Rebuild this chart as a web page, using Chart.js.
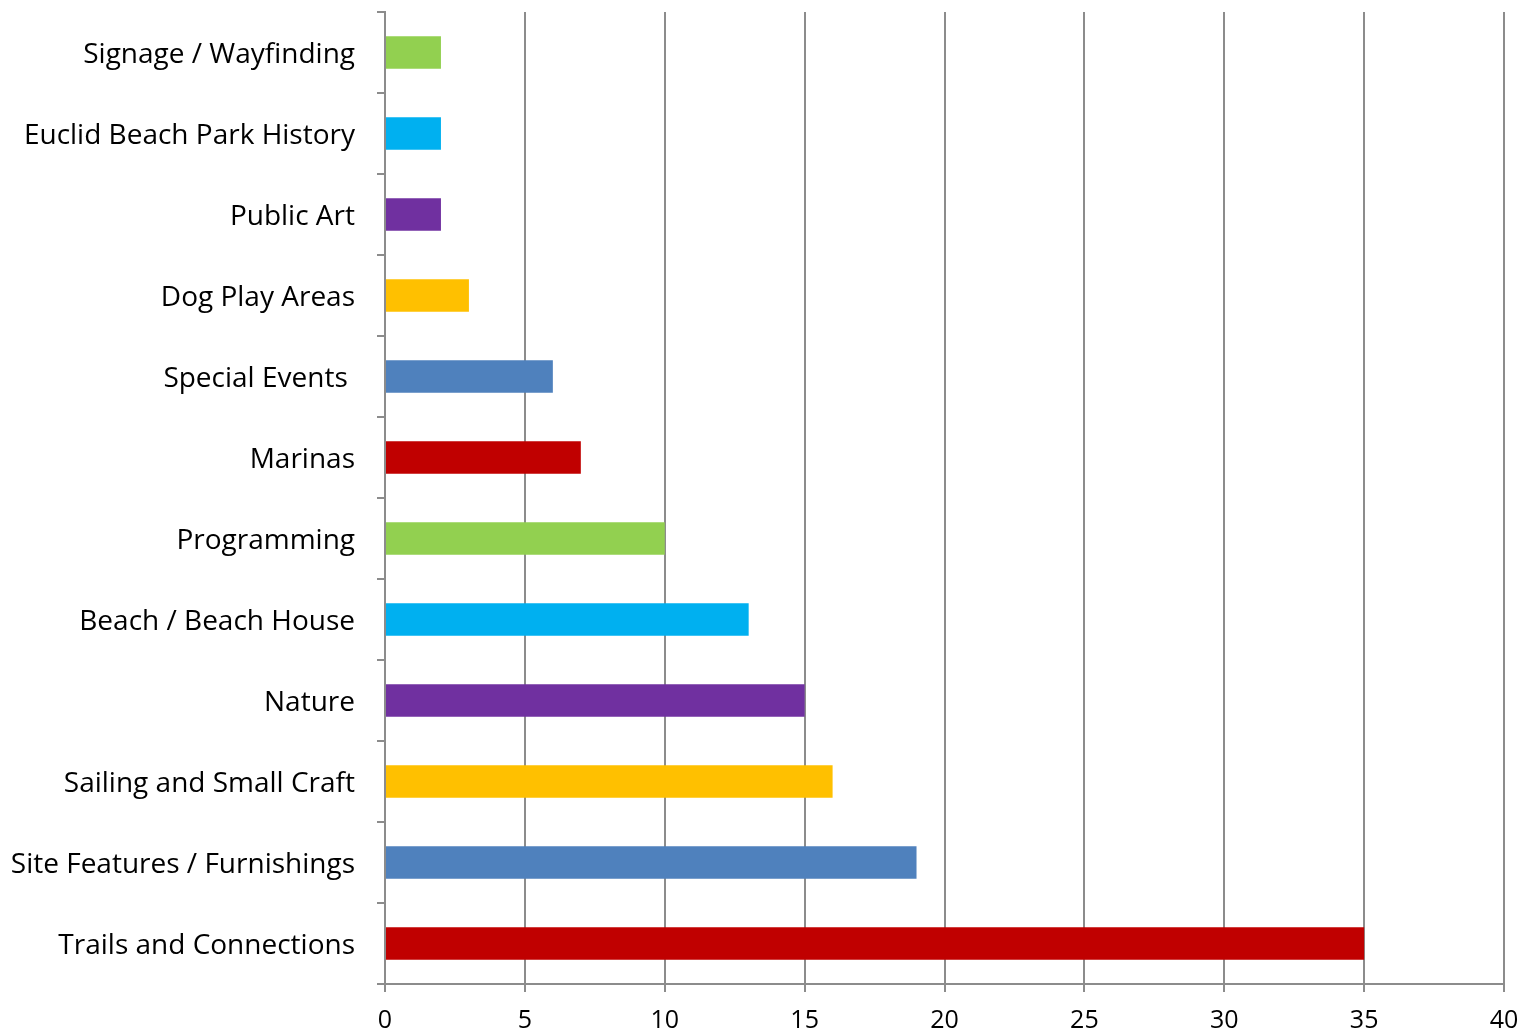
<!DOCTYPE html>
<html>
<head>
<meta charset="utf-8">
<script src="https://cdn.jsdelivr.net/npm/chart.js@4"></script>
<style>
  html, body { margin: 0; padding: 0; background: #fff; }
  #wrap { width: 1522px; height: 1031px; }
</style>
</head>
<body>
<div id="wrap"><canvas id="myCanvas" width="1522" height="1031"></canvas></div>
<script>
let canvas = document.getElementById("myCanvas");

// categories, top to bottom
const categorias = [
  "Signage / Wayfinding",
  "Euclid Beach Park History",
  "Public Art",
  "Dog Play Areas",
  "Special Events ",
  "Marinas",
  "Programming",
  "Beach / Beach House",
  "Nature",
  "Sailing and Small Craft",
  "Site Features / Furnishings",
  "Trails and Connections"
];
const respuestas = [2, 2, 2, 3, 6, 7, 10, 13, 15, 16, 19, 35];
const colores = [
  "#92D050", "#00B0F0", "#7030A0", "#FFC000", "#4F81BD", "#C00000",
  "#92D050", "#00B0F0", "#7030A0", "#FFC000", "#4F81BD", "#C00000"
];
const xMin = 0;
const xMax = 40;
const xPaso = 5;

const fuente = "'Open Sans', 'Liberation Sans', sans-serif";
const gris = "#8c8c8c";

window.chart = new Chart(canvas, {
  type: "bar",
  data: {
    labels: categorias,
    datasets: [
      {
        data: respuestas,
        backgroundColor: colores,
        borderWidth: 0,
        categoryPercentage: 1,
        barPercentage: 0.4
      }
    ]
  },
  options: {
    indexAxis: "y",
    responsive: false,
    animation: false,
    layout: { padding: { top: 12, right: 18, left: 0, bottom: 0 } },
    plugins: {
      legend: { display: false },
      tooltip: { enabled: false }
    },
    scales: {
      x: {
        min: xMin,
        max: xMax,
        ticks: {
          stepSize: xPaso,
          color: "#000",
          padding: 14,
          font: { family: fuente, size: 25 }
        },
        grid: {
          color: gris,
          lineWidth: 2,
          tickLength: 8,
          drawTicks: true
        },
        border: { color: gris, width: 2 },
        afterFit: (scale) => {
          scale.height = 47;
          scale.paddingLeft = 0;
          scale.paddingRight = 0;
        }
      },
      y: {
        ticks: {
          color: "#000",
          padding: 22,
          labelOffset: 3,
          font: { family: fuente, size: 28 }
        },
        grid: {
          offset: true,
          drawOnChartArea: false,
          color: gris,
          lineWidth: 2,
          tickLength: 8
        },
        border: { color: gris, width: 2 },
        afterFit: (scale) => {
          scale.width = 385;
          scale.paddingTop = 0;
          scale.paddingBottom = 0;
        }
      }
    }
  }
});
</script>
</body>
</html>
